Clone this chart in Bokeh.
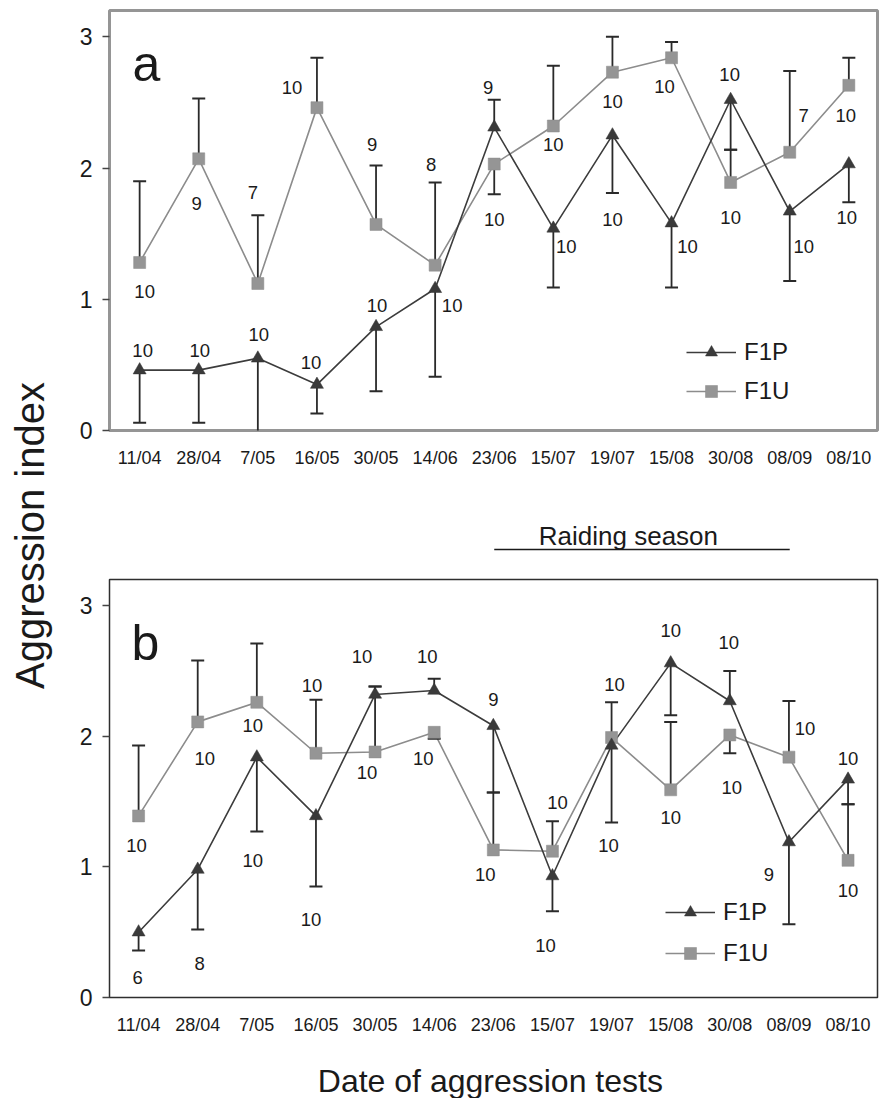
import math
from bokeh.plotting import figure
from bokeh.models import (Range1d, FixedTicker, Label, Legend, LegendItem,
                          ColumnDataSource)
from bokeh.layouts import row, column
from bokeh.core.properties import value
from bokeh.embed import file_html
from bokeh.resources import INLINE

# ---------------- data ----------------
dates = ["11/04", "28/04", "7/05", "16/05", "30/05", "14/06", "23/06",
         "15/07", "19/07", "15/08", "30/08", "08/09", "08/10"]

# panel a : means and end of the (one-sided) error bar
a_f1p = [0.46, 0.46, 0.55, 0.35, 0.79, 1.08, 2.31, 1.54, 2.25, 1.58, 2.52, 1.67, 2.03]
a_f1p_end = [0.06, 0.06, -0.03, 0.13, 0.30, 0.41, 2.52, 1.09, 1.81, 1.09, 2.14, 1.14, 1.74]
a_f1u = [1.28, 2.07, 1.12, 2.46, 1.57, 1.26, 2.03, 2.32, 2.73, 2.84, 1.89, 2.12, 2.63]
a_f1u_end = [1.90, 2.53, 1.64, 2.84, 2.02, 1.89, 1.80, 2.78, 3.00, 2.96, 2.14, 2.74, 2.84]
a_f1p_n = [10, 10, 10, 10, 10, 10, 9, 10, 10, 10, 10, 10, 10]
a_f1u_n = [10, 9, 7, 10, 9, 8, 10, 10, 10, 10, 10, 7, 10]

# panel b
b_f1p = [0.50, 0.98, 1.84, 1.39, 2.32, 2.35, 2.08, 0.93, 1.93, 2.56, 2.27, 1.19, 1.67]
b_f1p_end = [0.36, 0.52, 1.27, 0.85, 2.38, 2.44, 1.57, 0.66, 1.34, 2.16, 2.50, 0.56, 1.48]
b_f1u = [1.39, 2.11, 2.26, 1.87, 1.88, 2.03, 1.13, 1.12, 1.99, 1.59, 2.01, 1.84, 1.05]
b_f1u_end = [1.93, 2.58, 2.71, 2.28, 2.38, 1.98, 1.57, 1.35, 2.26, 2.11, 1.87, 2.27, 1.48]
b_f1p_n = [6, 8, 10, 10, 10, 10, 9, 10, 10, 10, 10, 9, 10]
b_f1u_n = [10, 10, 10, 10, 10, 10, 10, 10, 10, 10, 10, 10, 10]

# placement of the sample-size labels (y in data units, x shift in px)
a_p_lab_y = [0.61, 0.61, 0.73, 0.52, 0.95, 0.95, 2.61, 1.40, 1.61, 1.40, 2.71, 1.40, 1.62]
a_p_lab_dx = [3, 1, 1, -6, 1, 17, -6, 13, 0, 16, -1, 14, -2]
a_u_lab_y = [1.06, 1.73, 1.81, 2.61, 2.18, 2.03, 1.61, 2.18, 2.51, 2.62, 1.62, 2.40, 2.40]
a_u_lab_dx = [5, -2, -5, -25, -4, -4, 0, 0, 0, -7, 0, 14, -3]

b_p_lab_y = [0.15, 0.26, 1.05, 0.60, 2.61, 2.61, 2.28, 0.40, 1.16, 2.81, 2.72, 0.94, 1.83]
b_p_lab_dx = [-1, 2, -4, -5, -13, -7, 0, -7, -3, 0, -1, -20, 0]
b_u_lab_y = [1.16, 1.83, 2.08, 2.39, 1.72, 1.83, 0.94, 1.49, 2.40, 1.38, 1.61, 2.06, 0.82]
b_u_lab_dx = [-2, 7, -4, -4, -8, -11, -8, 5, 3, 0, 2, 16, 0]

y_ticks = [0, 1, 2, 3]
season = ("23/06", "08/09")

FONT = "Liberation Sans"
TXT = "#1a1a1a"
P_COL = "#3c3c3c"
U_COL = "#8c8c8c"
ERR = "#2a2a2a"
PANEL_W = 830
XR_A = (-0.51, 12.485)
XR_B = (-0.492, 12.498)


def blank(height, xr, b_left, b_right, y_top):
    f = figure(width=PANEL_W, height=height, x_range=Range1d(*xr),
               y_range=Range1d(0, y_top), output_backend="svg",
               toolbar_location=None, x_axis_location=None,
               y_axis_location=None, min_border_left=b_left,
               min_border_right=b_right, min_border_top=0, min_border_bottom=0)
    f.grid.visible = False
    f.outline_line_color = None
    return f


def make_panel(letter, f1p, f1p_end, f1u, f1u_end, n_p, n_u,
               p_ly, p_dx, u_ly, u_dx, xr, height, b_top, b_bottom, b_left,
               b_right, outline_color, outline_width, legend_loc, legend_spacing,
               letter_xy):
    x = list(range(len(dates)))
    p = figure(width=PANEL_W, height=height, x_range=Range1d(*xr),
               y_range=Range1d(0, 3.2), output_backend="svg",
               toolbar_location=None, min_border_top=b_top,
               min_border_bottom=b_bottom, min_border_left=b_left,
               min_border_right=b_right)
    p.grid.visible = False
    p.outline_line_color = outline_color
    p.outline_line_width = outline_width
    p.background_fill_color = "white"

    xa = p.xaxis[0]
    xa.ticker = FixedTicker(ticks=x)
    xa.major_label_overrides = {i: d for i, d in enumerate(dates)}
    xa.major_tick_out = 0
    xa.major_tick_in = 0
    xa.minor_tick_out = 0
    xa.axis_line_color = None
    xa.major_label_standoff = 17
    xa.major_label_text_font = FONT
    xa.major_label_text_font_size = "18px"
    xa.major_label_text_color = TXT

    ya = p.yaxis[0]
    ya.ticker = FixedTicker(ticks=y_ticks)
    ya.major_tick_out = 7
    ya.major_tick_in = 0
    ya.minor_tick_out = 0
    ya.minor_tick_in = 0
    ya.axis_line_color = None
    ya.major_tick_line_color = "#444444"
    ya.major_tick_line_width = 1.5
    ya.major_label_standoff = 10
    ya.major_label_text_font = FONT
    ya.major_label_text_font_size = "23px"
    ya.major_label_text_color = TXT

    lu = p.line(x, f1u, line_color=U_COL, line_width=1.6)
    lp = p.line(x, f1p, line_color=P_COL, line_width=1.6)

    p.segment(x0=x, y0=f1u, x1=x, y1=f1u_end, line_color=ERR, line_width=1.8)
    p.segment(x0=x, y0=f1p, x1=x, y1=f1p_end, line_color=ERR, line_width=1.8)
    p.scatter(x, f1u_end, marker="dash", size=13, line_color=ERR, line_width=2)
    p.scatter(x, f1p_end, marker="dash", size=13, line_color=ERR, line_width=2)

    su = p.scatter(x, f1u, marker="square", size=12, fill_color="#959595",
                   line_color="#8a8a8a", line_width=0.5)
    sp = p.scatter(x, f1p, marker="triangle", size=13, fill_color="#3a3a3a",
                   line_color="#333333", line_width=0.5)

    src = ColumnDataSource(dict(
        x=x + x, y=list(p_ly) + list(u_ly), dx=list(p_dx) + list(u_dx),
        t=[str(v) for v in n_p] + [str(v) for v in n_u]))
    p.text(x="x", y="y", text="t", x_offset="dx", source=src,
           text_font=value(FONT), text_font_size="18.5px", text_align="center",
           text_baseline="middle", text_color=TXT)

    legend = Legend(items=[LegendItem(label="F1P", renderers=[lp, sp]),
                           LegendItem(label="F1U", renderers=[lu, su])],
                    location=legend_loc, orientation="vertical", glyph_width=50,
                    glyph_height=30, label_standoff=8, spacing=legend_spacing,
                    padding=0, margin=0, border_line_color=None,
                    background_fill_alpha=0, label_text_font=FONT,
                    label_text_font_size="24px", label_text_color=TXT,
                    label_text_baseline="middle")
    p.add_layout(legend)

    p.add_layout(Label(x=letter_xy[0], y=letter_xy[1], text=letter,
                       text_font=FONT, text_font_size="50px", text_color=TXT,
                       text_align="left", text_baseline="alphabetic"))
    return p


pa = make_panel("a", a_f1p, a_f1p_end, a_f1u, a_f1u_end, a_f1p_n, a_f1u_n,
                a_p_lab_y, a_p_lab_dx, a_u_lab_y, a_u_lab_dx,
                XR_A, 480, 10, 50, 50, 11, "#959595", 3,
                (577, 24), 9, (-0.12, 2.796))

pb = make_panel("b", b_f1p, b_f1p_end, b_f1u, b_f1u_end, b_f1p_n, b_f1u_n,
                b_p_lab_y, b_p_lab_dx, b_u_lab_y, b_u_lab_dx,
                XR_B, 467, 4, 45, 51, 5, "#2e2e2e", 1.5,
                (556, 29), 11, (-0.12, 2.713))

# "Raiding season" strip between the panels (same x scale as panel a)
ps = blank(95, XR_A, 50, 11, 95)
i0, i1 = dates.index(season[0]), dates.index(season[1])
ps.segment(x0=[i0], y0=[26], x1=[i1], y1=[26], line_color=TXT, line_width=1.5)
ps.add_layout(Label(x=8.27, y=40, text="Raiding season", text_font=FONT,
                    text_font_size="26px", text_color=TXT, text_align="center",
                    text_baseline="middle"))

# x-axis title strip below panel b
pd_ = blank(56, XR_B, 51, 5, 56)
pd_.add_layout(Label(x=5.95, y=18, text="Date of aggression tests",
                     text_font=FONT, text_font_size="32px", text_color=TXT,
                     text_align="center", text_baseline="middle"))

# shared y-axis title
pl = figure(width=58, height=1098, x_range=Range1d(0, 58),
            y_range=Range1d(0, 1098), output_backend="svg",
            toolbar_location=None, x_axis_location=None, y_axis_location=None,
            min_border=0)
pl.grid.visible = False
pl.outline_line_color = None
pl.add_layout(Label(x=29, y=563, text="Aggression index", angle=math.pi / 2,
                    text_font=FONT, text_font_size="40px", text_color=TXT,
                    text_align="center", text_baseline="middle"))

layout = row(pl, column(pa, ps, pb, pd_))

open("out.html", "w").write(file_html(layout, INLINE))
